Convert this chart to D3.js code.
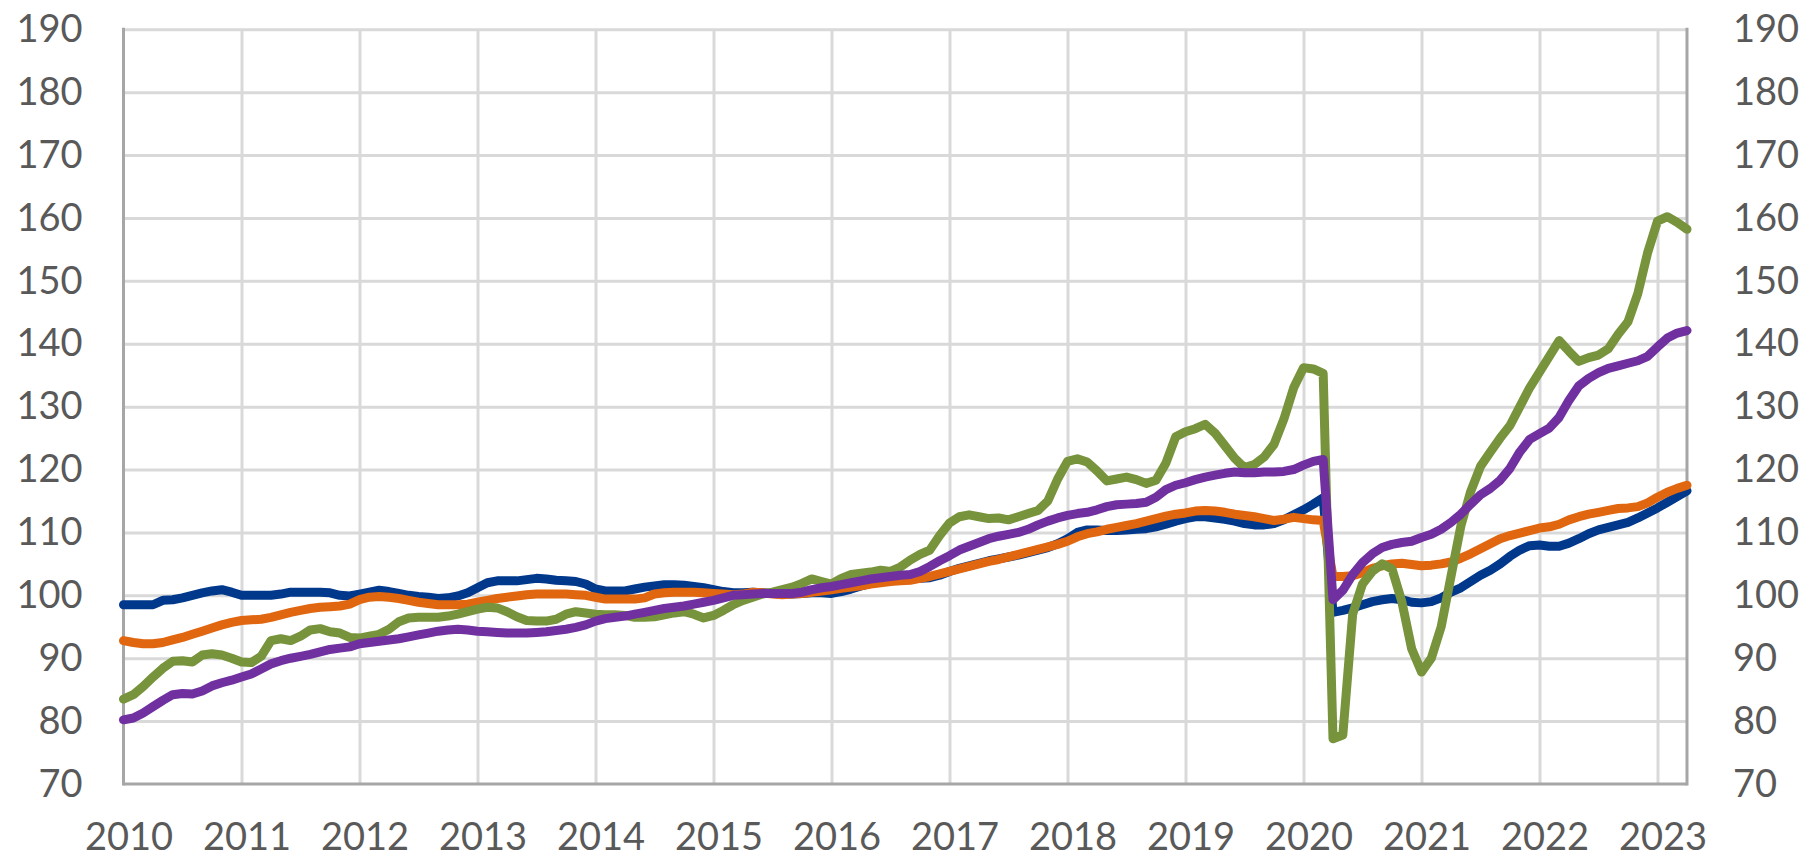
<!DOCTYPE html>
<html>
<head>
<meta charset="utf-8">
<script src="https://cdn.jsdelivr.net/npm/d3@7"></script>
<style>
html, body { margin: 0; padding: 0; background: #ffffff; }
svg { display: block; }
</style>
</head>
<body>
<svg id="chart" width="1809" height="859"></svg>
<script>
// ---- Data (monthly, Jan 2010 – Apr 2023) ----
const yearLabels = ["2010","2011","2012","2013","2014","2015","2016","2017","2018","2019","2020","2021","2022","2023"];
const yTicks = [70, 80, 90, 100, 110, 120, 130, 140, 150, 160, 170, 180, 190];

const seriesNavy = [
  98.5, 98.5, 98.5, 98.5, 99.2, 99.3, 99.6, 100.0, 100.4, 100.7, 100.9, 100.5,
  100.0, 100.0, 100.0, 100.0, 100.2, 100.5, 100.5, 100.5, 100.5, 100.4, 100.0, 99.9,
  100.2, 100.5, 100.8, 100.6, 100.3, 100.0, 99.8, 99.7, 99.5, 99.6, 99.9, 100.4,
  101.2, 102.0, 102.3, 102.3, 102.3, 102.5, 102.7, 102.6, 102.4, 102.3, 102.2, 101.8,
  101.0, 100.7, 100.7, 100.7, 101.0, 101.3, 101.5, 101.7, 101.7, 101.6, 101.4, 101.2,
  100.9, 100.6, 100.4, 100.4, 100.5, 100.4, 100.3, 100.2, 100.2, 100.3, 100.4, 100.4,
  100.3, 100.6, 101.0, 101.5, 101.9, 102.2, 102.4, 102.5, 102.6, 102.7, 102.8, 103.2,
  103.8, 104.3, 104.7, 105.1, 105.5, 105.8, 106.1, 106.4, 106.8, 107.2, 107.6, 108.2,
  109.0, 110.0, 110.4, 110.4, 110.3, 110.3, 110.4, 110.5, 110.6, 110.9, 111.3, 111.8,
  112.2, 112.5, 112.5, 112.3, 112.1, 111.8, 111.4, 111.2, 111.2, 111.4, 112.0, 112.8,
  113.6, 114.5, 115.5, 97.3, 97.6, 98.0, 98.5, 99.0, 99.3, 99.5, 99.3, 98.9,
  98.8, 99.0, 99.6, 100.5, 101.2, 102.2, 103.2, 104.0, 105.0, 106.2, 107.2, 107.9,
  108.0, 107.8, 107.8, 108.3, 109.0, 109.8, 110.4, 110.8, 111.2, 111.6, 112.3, 113.1,
  113.9, 114.8, 115.7, 116.6
];

const seriesOrange = [
  92.8, 92.5, 92.3, 92.3, 92.5, 92.9, 93.3, 93.8, 94.3, 94.8, 95.3, 95.7,
  96.0, 96.1, 96.2, 96.5, 96.9, 97.3, 97.6, 97.9, 98.1, 98.2, 98.3, 98.6,
  99.3, 99.7, 99.8, 99.7, 99.5, 99.2, 98.9, 98.7, 98.5, 98.5, 98.5, 98.6,
  98.9, 99.2, 99.5, 99.7, 99.9, 100.1, 100.2, 100.2, 100.2, 100.2, 100.1, 100.0,
  99.7, 99.4, 99.4, 99.4, 99.4, 99.6, 100.2, 100.4, 100.5, 100.5, 100.5, 100.4,
  100.3, 100.2, 100.1, 100.2, 100.5, 100.4, 100.2, 100.1, 100.2, 100.3, 100.5, 100.7,
  100.9, 101.1, 101.3, 101.5, 101.8, 102.0, 102.2, 102.3, 102.4, 102.7, 103.0, 103.4,
  103.8, 104.2, 104.6, 105.0, 105.4, 105.7, 106.1, 106.5, 106.9, 107.3, 107.7, 108.1,
  108.6, 109.3, 109.8, 110.1, 110.5, 110.8, 111.1, 111.4, 111.8, 112.2, 112.6, 112.9,
  113.1, 113.4, 113.5, 113.4, 113.2, 112.9, 112.7, 112.5, 112.2, 111.9, 112.1, 112.4,
  112.2, 112.0, 111.9, 103.0, 103.0, 103.1, 103.6, 104.3, 104.7, 105.0, 105.1, 104.9,
  104.7, 104.8, 105.0, 105.3, 105.9, 106.6, 107.4, 108.2, 109.0, 109.5, 109.9, 110.3,
  110.7, 110.9, 111.3, 112.0, 112.5, 112.9, 113.2, 113.5, 113.8, 113.9, 114.1, 114.7,
  115.6, 116.4, 117.0, 117.5
];

const seriesGreen = [
  83.5, 84.2, 85.5, 87.0, 88.4, 89.5, 89.6, 89.4, 90.5, 90.7, 90.5, 90.0,
  89.4, 89.3, 90.3, 92.8, 93.1, 92.8, 93.5, 94.5, 94.7, 94.2, 94.0, 93.3,
  93.2, 93.5, 93.8, 94.6, 95.8, 96.4, 96.5, 96.5, 96.5, 96.7, 97.0, 97.4,
  97.8, 98.1, 98.0, 97.4, 96.6, 96.0, 95.9, 95.9, 96.2, 97.0, 97.4, 97.2,
  97.0, 96.9, 96.9, 96.8, 96.5, 96.5, 96.6, 96.9, 97.2, 97.4, 97.0, 96.4,
  96.8, 97.6, 98.5, 99.2, 99.7, 100.2, 100.5, 100.9, 101.3, 101.9, 102.6, 102.2,
  101.8, 102.7, 103.3, 103.5, 103.7, 104.0, 103.8, 104.5, 105.6, 106.5, 107.2, 109.5,
  111.5, 112.5, 112.8, 112.5, 112.2, 112.3, 112.0, 112.5, 113.0, 113.5, 115.0, 118.5,
  121.3, 121.7, 121.2, 119.8, 118.2, 118.5, 118.8, 118.4, 117.8, 118.3, 121.0, 125.2,
  126.0, 126.5, 127.2, 125.8, 123.8, 121.8, 120.3, 120.8, 122.0, 124.0, 128.0, 133.0,
  136.2, 136.0, 135.3, 77.2, 77.8, 97.0, 101.8, 103.8, 105.0, 104.2, 99.0, 91.5,
  87.8, 90.0, 95.0, 103.0, 111.0, 116.5, 120.5, 122.8, 125.0, 127.0, 130.0, 133.0,
  135.5, 138.0, 140.5, 138.8, 137.2, 137.8, 138.2, 139.2, 141.5, 143.5, 148.0, 154.5,
  159.5, 160.2, 159.3, 158.2
];

const seriesPurple = [
  80.2, 80.5, 81.3, 82.3, 83.3, 84.2, 84.4, 84.3, 84.8, 85.6, 86.1, 86.5,
  87.0, 87.5, 88.3, 89.1, 89.6, 90.0, 90.3, 90.6, 91.0, 91.4, 91.6, 91.8,
  92.3, 92.5, 92.7, 92.9, 93.1, 93.4, 93.7, 94.0, 94.3, 94.5, 94.6, 94.5,
  94.3, 94.2, 94.1, 94.0, 94.0, 94.0, 94.1, 94.2, 94.4, 94.6, 94.9, 95.3,
  95.9, 96.3, 96.5, 96.7, 97.0, 97.3, 97.6, 97.9, 98.1, 98.3, 98.6, 98.9,
  99.2, 99.6, 100.0, 100.1, 100.2, 100.3, 100.3, 100.3, 100.3, 100.5, 100.9, 101.2,
  101.4, 101.7, 102.0, 102.3, 102.6, 102.8, 103.0, 103.2, 103.3, 103.8, 104.6, 105.5,
  106.3, 107.2, 107.8, 108.4, 109.0, 109.4, 109.7, 110.0, 110.5, 111.2, 111.8, 112.3,
  112.7, 113.0, 113.2, 113.6, 114.1, 114.4, 114.5, 114.6, 114.8, 115.6, 116.8, 117.5,
  117.9, 118.4, 118.8, 119.1, 119.4, 119.6, 119.5, 119.5, 119.6, 119.6, 119.7, 120.0,
  120.7, 121.3, 121.6, 99.3, 100.8, 103.3, 105.2, 106.6, 107.6, 108.1, 108.4, 108.6,
  109.2, 109.7, 110.5, 111.6, 112.9, 114.5, 116.0, 117.0, 118.3, 120.2, 122.8, 124.8,
  125.7, 126.6, 128.3, 131.0, 133.3, 134.5, 135.4, 136.1, 136.5, 136.9, 137.3, 138.0,
  139.5, 140.9, 141.7, 142.1
];

const seriesColors = ["#00388C", "#E0660F", "#77933C", "#7030A0"];

// ---- Layout ----
const svg = d3.select("#chart");
const plotLeft = 123.5, plotRight = 1687, plotTop = 29.3, plotBottom = 784;
const FONT = "Lato, 'Open Sans', sans-serif";
const TEXT_COLOR = "#595959";

const nPts = seriesNavy.length;
const x = d3.scaleLinear().domain([0, nPts - 1]).range([plotLeft, plotRight]);
const y = d3.scaleLinear().domain([70, 190]).range([plotBottom, plotTop]);

const yearTickVals = yearLabels.map((d, i) => i * 12);

// horizontal gridlines
svg.append("g")
  .attr("transform", `translate(${plotLeft},0)`)
  .call(d3.axisLeft(y).tickValues(yTicks.filter(v => v > 70)).tickSize(-(plotRight - plotLeft)).tickFormat(""))
  .call(g => g.select(".domain").remove())
  .call(g => g.selectAll("line").attr("stroke", "#D9D9D9").attr("stroke-width", 3));

// vertical gridlines
svg.append("g")
  .attr("transform", `translate(0,${plotBottom})`)
  .call(d3.axisBottom(x).tickValues(yearTickVals.filter(v => v > 0)).tickSize(-(plotBottom - plotTop)).tickFormat(""))
  .call(g => g.select(".domain").remove())
  .call(g => g.selectAll("line").attr("stroke", "#D9D9D9").attr("stroke-width", 3));

// axis lines
const axisColor = "#A6A6A6";
svg.append("line").attr("x1", x(0)).attr("x2", x(0)).attr("y1", y(190) - 1.5).attr("y2", y(70) + 1.5)
  .attr("stroke", axisColor).attr("stroke-width", 3);
svg.append("line").attr("x1", x(nPts - 1)).attr("x2", x(nPts - 1)).attr("y1", y(190) - 1.5).attr("y2", y(70) + 1.5)
  .attr("stroke", axisColor).attr("stroke-width", 3);
svg.append("line").attr("x1", x(0)).attr("x2", x(nPts - 1)).attr("y1", y(70)).attr("y2", y(70))
  .attr("stroke", axisColor).attr("stroke-width", 3);

// tick labels
function styleLabels(g) {
  g.select(".domain").remove();
  g.selectAll("line").remove();
  g.selectAll("text").attr("fill", TEXT_COLOR).style("font-family", FONT).style("font-size", "38px");
}
svg.append("g")
  .attr("transform", `translate(${plotLeft},0)`)
  .call(d3.axisLeft(y).tickValues(yTicks).tickSize(0).tickPadding(41).tickFormat(d3.format("d")))
  .call(styleLabels);
svg.append("g")
  .attr("transform", `translate(${plotRight},0)`)
  .call(d3.axisRight(y).tickValues(yTicks).tickSize(0).tickPadding(46).tickFormat(d3.format("d")))
  .call(styleLabels);
svg.append("g")
  .attr("transform", `translate(0,${plotBottom})`)
  .call(d3.axisBottom(x).tickValues(yearTickVals).tickSize(0).tickPadding(39).tickFormat((d, i) => yearLabels[i]))
  .call(styleLabels)
  .call(g => g.selectAll("text").attr("dx", 5));

// lines
const lineGen = d3.line().x((d, i) => x(i)).y(d => y(d)).curve(d3.curveLinear);
[seriesNavy, seriesOrange, seriesGreen, seriesPurple].forEach((s, k) => {
  svg.append("path")
    .datum(s)
    .attr("d", lineGen)
    .attr("fill", "none")
    .attr("stroke", seriesColors[k])
    .attr("stroke-width", 9)
    .attr("stroke-linejoin", "round")
    .attr("stroke-linecap", "round");
});
</script>
</body>
</html>
